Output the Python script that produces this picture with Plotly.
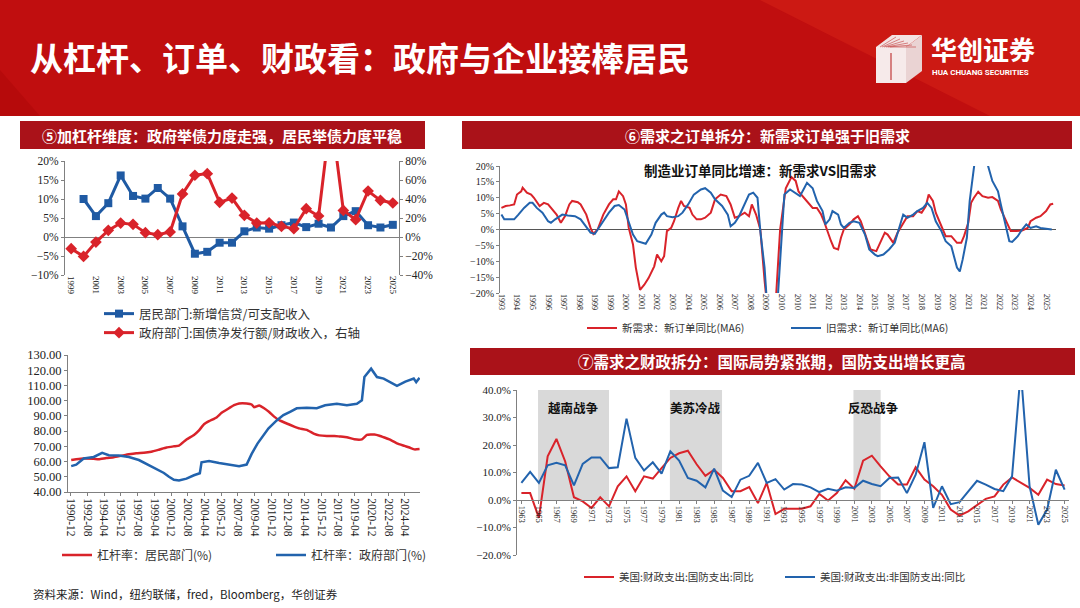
import plotly.graph_objects as go

W, H = 1080, 608
def fx(x): return x / W
def fy(y): return 1 - y / H

# ---------------- data ----------------
# Panel 5 (top-left): leverage flows
flow_years = list(range(1999, 2026))
hh_credit_ratio = [None, 10.0, 5.5, 8.9, 16.2, 10.8, 10.1, 12.9, 10.1, 2.8, -4.4, -3.9, -1.5, -1.5, 1.5,
                   2.5, 2.2, 3.1, 3.8, 2.6, 3.5, 2.5, 5.5, 6.8, 3.1, 2.5, 3.2]
gov_bond_ratio = [-12.3, -20.4, -5.3, 7.0, 14.7, 13.3, 4.6, 2.5, 5.3, 45.3, 65.0, 66.7, 36.5, 41.0, 22.8,
                  14.7, 15.0, 11.2, 8.8, 29.8, 22.1, 130.0, 28.0, 18.2, 48.4, 38.6, 35.8]
flow_ticks = list(range(1999, 2026, 2))

# Panel 5 (bottom-left): leverage ratios
hh_lev_dates = ['1990-12', '1991-06', '1992-03', '1993-03', '1993-09', '1994-06', '1995-03', '1995-12',
                '1996-09', '1997-06', '1998-03', '1998-12', '1999-09', '2000-06', '2001-03', '2001-09',
                '2002-06', '2003-03', '2003-09', '2004-03', '2004-09', '2005-06', '2005-12', '2006-06',
                '2007-03', '2007-09', '2008-06', '2008-12', '2009-03', '2009-09', '2010-03', '2010-09',
                '2011-03', '2011-09', '2012-06', '2013-03', '2013-09', '2014-06', '2015-03', '2015-09',
                '2016-06', '2017-03', '2017-09', '2018-06', '2019-03', '2019-12', '2020-06', '2021-03',
                '2021-09', '2022-03', '2022-09', '2023-06', '2024-03', '2024-09', '2025-03', '2025-09']
hh_lev_vals = [61, 61.5, 62, 61.8, 61.5, 62.3, 62.8, 63.8, 64.8, 65.5, 65.8, 66.5, 67.8, 69.2, 70, 70.5,
               74.5, 77.5, 80.5, 84.5, 86.5, 89, 92, 94, 97, 98.2, 98.2, 97.5, 95.7, 96.8, 95, 92.5,
               89.5, 87.2, 85, 83, 81.8, 80.8, 78.2, 77.2, 76.8, 76.8, 76.5, 76, 74.6, 74.6, 77.5, 77.8,
               77, 75.8, 74.5, 72, 70.3, 69.2, 68, 68.2]
gov_lev_dates = ['1990-12', '1991-06', '1992-03', '1993-03', '1994-01', '1994-09', '1995-09', '1996-09',
                 '1997-09', '1998-09', '1999-06', '2000-03', '2000-09', '2001-03', '2001-09', '2002-06',
                 '2003-03', '2003-10', '2003-12', '2004-09', '2005-09', '2006-09', '2007-09', '2008-06',
                 '2008-12', '2009-07', '2010-02', '2010-08', '2011-06', '2012-02', '2012-10', '2013-06',
                 '2014-06', '2015-06', '2016-04', '2017-06', '2018-06', '2019-06', '2019-12', '2020-03',
                 '2020-11', '2021-06', '2022-02', '2022-10', '2023-06', '2024-04', '2025-02', '2025-05',
                 '2025-09']
gov_lev_vals = [57, 58, 62, 63, 65.7, 64.2, 64, 63, 61, 57.6, 55.2, 52.5, 50, 48, 47.5, 48.8, 51, 52.3,
                59.5, 60.3, 59, 57.8, 57, 58, 65, 71.8, 77.3, 81.7, 87, 90.5, 92.7, 95, 95.3, 95, 97, 98,
                97, 98, 100.3, 115.5, 121, 115.5, 114.5, 112, 109.8, 112.5, 114.5, 112.2, 115]
lev_tick_labels = ['1990-12', '1992-08', '1994-04', '1995-12', '1997-08', '1999-04', '2000-12',
                   '2002-08', '2004-04', '2005-12', '2007-08', '2009-04', '2010-12', '2012-08',
                   '2014-04', '2015-12', '2017-08', '2019-04', '2020-12', '2022-08', '2024-04']

# Panel 6 (top-right): manufacturing orders yoy, MA6 (x = months since 1993-07)
new_ord_m = [0, 3, 6, 9, 11, 14, 15, 18, 21, 23, 27, 30, 33, 36, 39, 42, 45, 48, 50, 54, 56, 60, 63, 65,
             68, 72, 74, 76, 79, 81, 83, 86, 88, 90, 93, 95, 98, 101, 104, 108, 110, 113, 115, 117, 120,
             122, 125, 127, 129, 133, 135, 138, 141, 144, 148, 151, 155, 159, 162, 165, 168, 172, 175,
             177, 180, 183, 186, 188, 192, 194, 197, 201, 205, 208, 210, 214, 218, 220, 223, 226, 228,
             231, 233, 235, 238, 240, 242, 246, 249, 252, 254, 258, 261, 265, 268, 271, 273, 277, 280,
             284, 287, 291, 294, 297, 300, 302, 305, 307, 311, 314, 318, 322, 325, 327, 330, 332, 334,
             337, 340, 344, 347, 351, 353, 357, 360, 364, 368, 372, 374, 378, 381, 385, 388, 390]
new_ord_v = [6.8, 7.4, 7.6, 7.9, 11, 12, 13.2, 11.6, 11, 10, 7.4, 8.4, 7.9, 6.3, 4.7, 2.1, 4.2, 7.9, 9.0,
             8.6, 7.9, 4.7, 0.5, -1.4, 0, 4.7, 6.3, 7.9, 9.5, 9.5, 12, 10.5, 7.9, 0.5, -4.7, -12, -19,
             -17.4, -15.3, -11.6, -7.9, -10, -8.4, -0.5, 0.5, 2.6, 6.8, 9, 7.4, 6.8, 4.7, 3.2, 3.2, 3.7,
             5.3, 9.5, 11, 10.5, 7.9, 3.7, 4.2, 5.3, 4.2, 7.9, 4.7, 0, -16, -25, -28, -22, 0, 13, 16.5,
             15.3, 12, 10, 7.9, 6.8, 6.8, 4.7, 2.6, -1.6, -3.7, -5.8, -6.3, -2.6, 0, 1.6, 3.2, 4.2, 2.6,
             -2.6, -6.3, -6.8, -3.7, -1, -1.6, -4.2, -1, 2.1, 4.2, 4.2, 5.8, 5.3, 7.4, 11, 9, 5.3, 1,
             -2.1, -2.1, -4.2, -4.2, -2.1, 2.1, 8.4, 10, 11.9, 10.5, 10, 10.2, 9, 6.3, 2.1, -0.5, -0.5,
             -0.3, 0.5, 2.6, 3.7, 4.2, 5.8, 7.9, 8.1]
old_ord_m = [0, 2, 5, 9, 12, 16, 20, 22, 25, 29, 33, 35, 38, 43, 47, 52, 56, 60, 63, 66, 69, 73, 76, 80,
             83, 87, 89, 93, 96, 100, 102, 106, 109, 113, 115, 117, 121, 125, 128, 132, 136, 141, 144,
             148, 151, 156, 160, 162, 165, 168, 172, 175, 178, 181, 183, 186, 188, 192, 195, 198, 200,
             204, 207, 211, 214, 216, 220, 223, 227, 229, 232, 234, 238, 240, 242, 246, 249, 253, 257,
             260, 264, 266, 270, 274, 278, 282, 284, 287, 291, 294, 298, 301, 304, 307, 311, 314, 318,
             322, 324, 326, 329, 331, 334, 337, 341, 344, 347, 351, 353, 356, 359, 361, 365, 368, 371,
             374, 378, 381, 385, 389]
old_ord_v = [4.7, 3.2, 3.2, 3.2, 4.7, 6.8, 8.4, 8.4, 6.8, 5.3, 2.6, 2.1, 3.2, 4.7, 4.4, 4.2, 3.2, 1, -1,
             -1.4, 0.5, 3.2, 5.3, 7.4, 7.7, 6.3, 3.7, -1.6, -3.7, -4.2, -4.5, -1.6, 2.1, 4.7, 5.3, 4.2,
             3.9, 4.2, 5.3, 7.9, 11, 12.6, 13, 11.6, 9.5, 7.4, 4.7, 1, 2.1, 4.2, 8.4, 11, 11.6, 10,
             -0.5, -12, -25, -30, -24, -0.5, 11, 12.6, 11.6, 10.5, 13, 14.7, 13, 9, 5.8, 1.6, 3.2, 5.8,
             4.7, 1.6, 0.5, 2.1, 2.6, 2.1, -1.6, -6.3, -7.9, -8.4, -7.9, -6.3, -4.2, 1.6, 4.7, 3.7, 4.7,
             5.8, 6.8, 8.4, 6.8, 2.6, -0.5, -3.7, -5.3, -12, -13.2, -9.5, -2.6, 9, 20.5, 30, 31, 20,
             15.3, 12, 7.9, 1.6, -3.7, -3.9, -2.1, 0, 1.6, 0.5, 1, 0.5, 0.2, 0]
ord_tick_labels = ['1993', '1994', '1995', '1996', '1997', '1998', '1999', '1999', '2000', '2001',
                   '2002', '2003', '2004', '2005', '2006', '2007', '2008', '2009', '2010', '2010',
                   '2011', '2012', '2013', '2014', '2015', '2016', '2017', '2018', '2019', '2020',
                   '2021', '2021', '2022', '2023', '2024', '2025']
ord_tick_step = 11

# Panel 7 (bottom-right): US federal outlays yoy
fis_years = list(range(1963, 2026))
defense_yoy = [2.5, 2.5, -6.5, 15.9, 22.2, 14, 1, -0.5, -2.9, 1, -2.3, 5, 8.6, 3.2, 8.6, 7.8, 11.6, 15.3,
               17, 17.9, 13, 8.8, 11, 8, 3.2, 3.2, 4.7, -1.1, 6.2, -5.1, -3.2, -3.3, -3.2, -2.3, 2.2,
               -0.2, 2.5, 7.2, 4.1, 14.3, 16.1, 12.2, 8.6, 5.6, 5.6, 11.9, 7.4, 5, 1.9, -3.5, -5.7,
               -4.1, -1.9, 0.4, 1.3, 5.6, 8.2, 6.2, 4.4, 1.9, 7.4, 5.8, 5.3]
nondefense_yoy = [6.2, 10.2, 6.2, 12.6, 13.5, 12.6, 5.3, 13.1, 15.5, 15.5, 11.6, 11.9, 29.6, 15.3, 10.7,
                  13.7, 9.6, 17.7, 14.3, 8, 7, 4.6, 11.4, 3.4, 1.1, 7.4, 8.8, 13.5, 6.2, 7.6, 3.8, 5.8,
                  5.6, 4.6, 2.9, 4.1, 3.4, 4.6, 4.4, 7, 5.8, 5, 8, 8.2, 2.5, 9.2, 21, -2.9, 5, -1.5,
                  -0.8, 3.2, 7, 5.6, 4, 3.2, 8.6, 47, 5, -9, -3.5, 11, 3.8]
fis_ticks = list(range(1963, 2026, 2))
war_periods = [(1964.9, 1973.0, '越南战争'), (1979.95, 1985.9, '美苏冷战'), (2000.9, 2004.0, '反恐战争')]

# ---------------- styling ----------------
CJK = 'Noto Sans CJK SC'
SERIF = 'Liberation Serif'
RED = '#d9232a'
BLUE = '#2263ad'
AX = '#808080'

fig = go.Figure()

fig.add_trace(go.Scatter(x=flow_years, y=hh_credit_ratio, mode='lines+markers', name='居民部门:新增信贷/可支配收入',
                         line=dict(color='#1f5aa3', width=3), marker=dict(symbol='square', size=8, color='#1f5aa3'),
                         xaxis='x', yaxis='y', legend='legend', connectgaps=False))
fig.add_trace(go.Scatter(x=flow_years, y=gov_bond_ratio, mode='lines+markers', name='政府部门:国债净发行额/财政收入，右轴',
                         line=dict(color=RED, width=3), marker=dict(symbol='diamond', size=9, color=RED),
                         xaxis='x', yaxis='y2', legend='legend2'))
fig.add_trace(go.Scatter(x=[d + '-15' for d in hh_lev_dates], y=hh_lev_vals, mode='lines', name='杠杆率：居民部门(%)',
                         line=dict(color=RED, width=2.5, shape='spline', smoothing=0.4), xaxis='x2', yaxis='y3', legend='legend3'))
fig.add_trace(go.Scatter(x=[d + '-15' for d in gov_lev_dates], y=gov_lev_vals, mode='lines', name='杠杆率：政府部门(%)',
                         line=dict(color=BLUE, width=2.5), xaxis='x2', yaxis='y3', legend='legend4'))
fig.add_trace(go.Scatter(x=new_ord_m, y=new_ord_v, mode='lines', name='新需求：新订单同比(MA6)',
                         line=dict(color=RED, width=2), xaxis='x3', yaxis='y4', legend='legend5'))
fig.add_trace(go.Scatter(x=old_ord_m, y=old_ord_v, mode='lines', name='旧需求：新订单同比(MA6)',
                         line=dict(color=BLUE, width=2), xaxis='x3', yaxis='y4', legend='legend6'))
fig.add_trace(go.Scatter(x=fis_years, y=defense_yoy, mode='lines', name='美国:财政支出:国防支出:同比',
                         line=dict(color=RED, width=2), xaxis='x4', yaxis='y5', legend='legend7'))
fig.add_trace(go.Scatter(x=fis_years, y=nondefense_yoy, mode='lines', name='美国:财政支出:非国防支出:同比',
                         line=dict(color=BLUE, width=2), xaxis='x4', yaxis='y5', legend='legend8'))

tick_font = lambda s: dict(family=SERIF, size=s, color='#222')
common = dict(showgrid=False, automargin=False)

layout = dict(
    width=W, height=H, margin=dict(l=0, r=0, t=0, b=0, pad=0, autoexpand=False),
    paper_bgcolor='white', plot_bgcolor='rgba(0,0,0,0)',
    showlegend=True, hovermode=False,
    xaxis=dict(domain=[fx(65), fx(399)], anchor='y', range=[1998.5, 2025.5], tickvals=flow_ticks,
               ticktext=[str(t) for t in flow_ticks], tickangle=90, tickfont=tick_font(9),
               zeroline=False, showline=False, ticks='', **common),
    yaxis=dict(domain=[fy(275), fy(161)], anchor='x', range=[-10, 20], dtick=5, ticksuffix='%',
               tickfont=tick_font(11.5), zeroline=True, zerolinecolor=AX, zerolinewidth=1,
               showline=True, linecolor=AX, ticks='outside', ticklen=3, tickcolor=AX, **common),
    yaxis2=dict(overlaying='y', side='right', anchor='x', range=[-40, 80], dtick=20, ticksuffix='%',
                tickfont=tick_font(11.5), zeroline=False, showline=True, linecolor=AX,
                ticks='outside', ticklen=3, tickcolor=AX, **common),
    xaxis2=dict(domain=[fx(68), fx(420)], anchor='y3', type='date', range=['1990-08-20', '2025-10-01'],
                tickvals=[l + '-01' for l in lev_tick_labels], ticktext=lev_tick_labels, tickangle=90,
                tickfont=tick_font(11.5), zeroline=False, showline=True, linecolor=AX,
                ticks='outside', ticklen=3, tickcolor=AX, **common),
    yaxis3=dict(domain=[fy(492), fy(355)], anchor='x2', range=[40, 130], dtick=10, tickformat='.2f',
                tickfont=tick_font(12.5), zeroline=False, showline=True, linecolor=AX,
                ticks='outside', ticklen=3, tickcolor=AX, **common),
    xaxis3=dict(domain=[fx(500), fx(1056)], anchor='y4', range=[-1, 392],
                tickvals=[i * ord_tick_step for i in range(len(ord_tick_labels))], ticktext=ord_tick_labels,
                tickangle=90, tickfont=tick_font(8), zeroline=False, showline=False, ticks='', **common),
    yaxis4=dict(domain=[fy(293), fy(166)], anchor='x3', range=[-20, 20], dtick=5, ticksuffix='%',
                tickfont=tick_font(10), zeroline=True, zerolinecolor='#555', zerolinewidth=1,
                showline=True, linecolor=AX, ticks='outside', ticklen=3, tickcolor=AX, **common),
    xaxis4=dict(domain=[fx(517), fx(1069)], anchor='free', position=fy(500), range=[1962.5, 2025.5],
                tickvals=fis_ticks, ticktext=[str(t) for t in fis_ticks], tickangle=90, tickfont=tick_font(8.5),
                zeroline=False, showline=True, linecolor=AX, ticks='outside', ticklen=3,
                tickcolor=AX, **common),
    yaxis5=dict(domain=[fy(555), fy(390)], anchor='x4', range=[-20, 40], dtick=10, tickformat='.1f',
                ticksuffix='%', tickfont=tick_font(11), zeroline=False, showline=True,
                linecolor=AX, ticks='outside', ticklen=3, tickcolor=AX, **common),
)

def leg(x, y, size):
    return dict(x=fx(x), y=fy(y), xanchor='left', yanchor='middle', orientation='h',
                bgcolor='rgba(0,0,0,0)', font=dict(family=CJK, size=size, color='#333'),
                itemclick=False, itemdoubleclick=False)

layout['legend'] = leg(99, 314, 12.5)
layout['legend2'] = leg(99, 333, 12.5)
layout['legend3'] = leg(57, 555, 12)
layout['legend4'] = leg(271, 555, 12)
layout['legend5'] = leg(582, 328, 10.5)
layout['legend6'] = leg(786, 328, 10.5)
layout['legend7'] = leg(579, 577, 10.5)
layout['legend8'] = leg(780, 577, 10.5)

shapes = []
def prect(x0, y0, x1, y1, color, layer='below'):
    shapes.append(dict(type='rect', xref='paper', yref='paper', x0=fx(x0), x1=fx(x1), y0=fy(y1), y1=fy(y0),
                       fillcolor=color, line=dict(width=0), layer=layer))
def ppath(pts, color, layer='below'):
    d = 'M ' + ' L '.join(f'{fx(a):.5f},{fy(b):.5f}' for a, b in pts) + ' Z'
    shapes.append(dict(type='path', xref='paper', yref='paper', path=d, fillcolor=color,
                       line=dict(width=0), layer=layer))

# header background
prect(0, 0, 1080, 116, '#c00e0f')
ppath([(760, 0), (1080, 0), (1080, 116), (990, 116)], 'rgba(225,45,30,0.35)')
ppath([(0, 70), (40, 116), (0, 116)], 'rgba(150,0,0,0.25)')
# logo block
ppath([(876, 47), (892, 35), (922, 35), (906, 47)], '#f3e3e3', 'above')
ppath([(876, 47), (906, 47), (906, 83), (876, 83)], '#f6eaea', 'above')
ppath([(906, 47), (922, 35), (922, 71), (906, 83)], '#ead3d3', 'above')
for k in range(6):
    yy = 37 + k * 2
    shapes.append(dict(type='line', xref='paper', yref='paper', x0=fx(880 + k * 2), y0=fy(47),
                       x1=fx(896 + k * 4), y1=fy(yy), line=dict(color='#c23a3a', width=0.6), layer='above'))
shapes.append(dict(type='line', xref='paper', yref='paper', x0=fx(891), y0=fy(53), x1=fx(891), y1=fy(80),
                   line=dict(color='#c23a3a', width=1.2), layer='above'))

# section bands
prect(20, 121, 425, 149, '#aa1219')
prect(462, 121, 1072, 149, '#aa1219')
prect(470, 348, 1075, 375, '#aa1219')

# war shading
for a, b, _ in war_periods:
    shapes.append(dict(type='rect', xref='x4', yref='y5', x0=a, x1=b, y0=0, y1=40,
                       fillcolor='#d9d9d9', line=dict(width=0), layer='below'))
layout['shapes'] = shapes

ann = []
def ptext(x, y, text, size, color='white', bold=True, xanchor='left', family=CJK):
    ann.append(dict(xref='paper', yref='paper', x=fx(x), y=fy(y), text=(f'<b>{text}</b>' if bold else text),
                    showarrow=False, xanchor=xanchor, yanchor='middle',
                    font=dict(family=family, size=size, color=color)))

ptext(28, 57, '从杠杆、订单、财政看：政府与企业接棒居民', 33)
ptext(929, 49, '华创证券', 26)
ptext(930, 73, 'HUA CHUANG SECURITIES', 8, family='Roboto')
ptext(222, 135, '⑤加杠杆维度：政府举债力度走强，居民举债力度平稳', 15, xanchor='center')
ptext(767, 135, '⑥需求之订单拆分：新需求订单强于旧需求', 15, xanchor='center')
ptext(772, 361, '⑦需求之财政拆分：国际局势紧张期，国防支出增长更高', 15.5, xanchor='center')
ptext(760, 170, '制造业订单同比增速：新需求VS旧需求', 13.5, color='#111', xanchor='center')
ptext(31, 594, '资料来源：Wind，纽约联储，fred，Bloomberg，华创证券', 11.5, color='#222', bold=False)

for a, b, label in war_periods:
    ann.append(dict(xref='x4', yref='y5', x=(a + b) / 2 if label != '反恐战争' else b - 0.8, y=33.5,
                    text=f'<b>{label}</b>', showarrow=False, xanchor='center', yanchor='middle',
                    font=dict(family=CJK, size=12.5, color='#111')))
layout['annotations'] = ann

fig.update_layout(**layout)
fig.write_html('out.html', config={'displayModeBar': False})
